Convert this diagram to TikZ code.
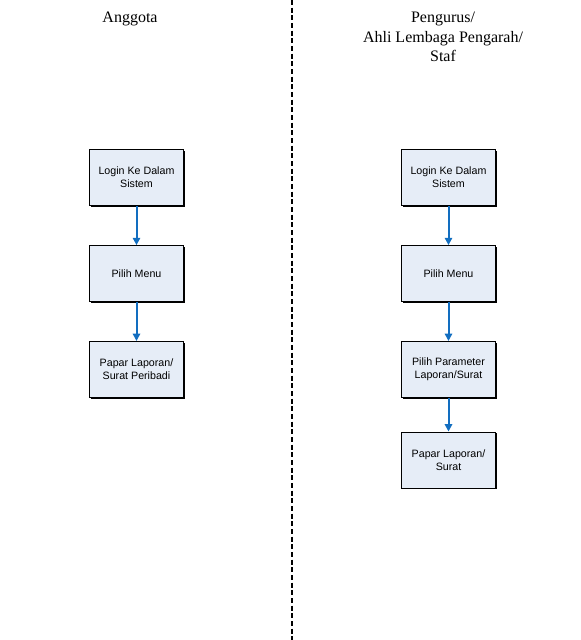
\documentclass[tikz,border=0pt]{standalone}
\usepackage{fontspec}
\setmainfont{Liberation Serif}
\setsansfont{Liberation Sans}
\usetikzlibrary{positioning,arrows.meta,shadows}
\definecolor{boxfill}{RGB}{230,237,247}
\definecolor{flowblue}{RGB}{18,110,192}

\begin{document}
\begin{tikzpicture}[x=0.75pt, y=-0.75pt, node distance=29.5pt,
	box/.style={draw, fill=boxfill, minimum width=70.5pt, minimum height=42pt,
		inner sep=1pt, align=center, font=\sffamily\fontsize{8}{9.75}\selectfont,
		drop shadow={shadow xshift=1pt, shadow yshift=-1pt, fill=black, opacity=1}},
	flow/.style={-{Triangle[length=5.5pt,width=5.5pt]}, draw=flowblue, line width=1.5pt},
	head/.style={align=center, font=\fontsize{12}{14.6}\selectfont}]
\useasboundingbox (0,0) rectangle (581,640);
\draw[line width=1.5pt, dash pattern=on 3.75pt off 2pt] (292,0) -- (292,640);

\node[head] (anggota) at (130,19) {Anggota};
\node[head] (pengurus) at (443,37) {Pengurus/\\Ahli Lembaga Pengarah/\\Staf};

\node[box] (login a) at (136.5,177.5) {Login Ke Dalam\\Sistem};
\node[box, below=of login a] (menu a) {Pilih Menu};
\node[box, below=of menu a] (papar a) {Papar Laporan/\\Surat Peribadi};

\node[box] (login b) at (448.5,177.5) {Login Ke Dalam\\Sistem};
\node[box, below=of login b] (menu b) {Pilih Menu};
\node[box, below=of menu b] (param b) {Pilih Parameter\\Laporan/Surat};
\node[box, below=25.5pt of param b] (papar b) {Papar Laporan/\\Surat};

\draw[flow] (login a) -- (menu a);
\draw[flow] (menu a) -- (papar a);
\draw[flow] (login b) -- (menu b);
\draw[flow] (menu b) -- (param b);
\draw[flow] (param b) -- (papar b);
\end{tikzpicture}
\end{document}
